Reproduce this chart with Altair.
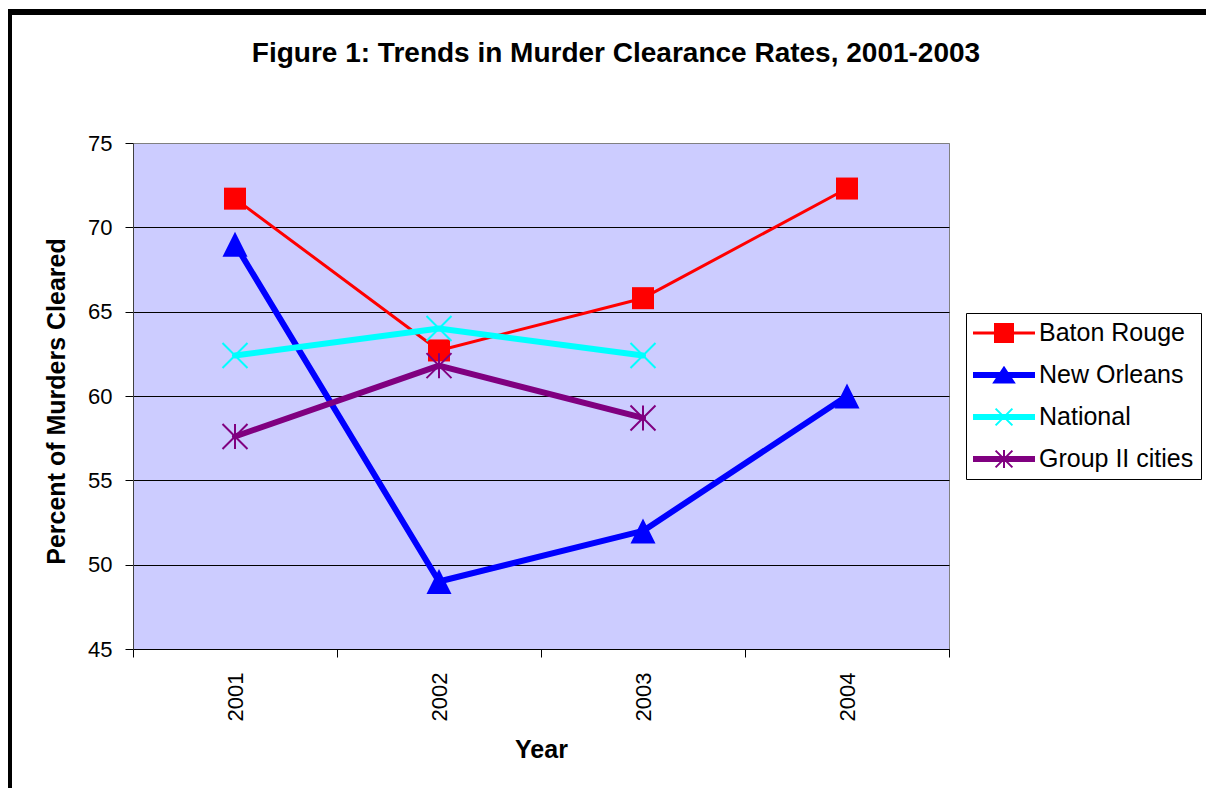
import altair as alt
import pandas as pd

# ---- data ----
years = ["2001", "2002", "2003", "2004"]
series_names = ["Baton Rouge", "New Orleans", "National", "Group II cities"]
baton_rouge = [71.7, 62.7, 65.8, 72.3]
new_orleans = [69.0, 49.0, 52.0, 60.0]
national = [62.4, 64.0, 62.4, None]
group_ii = [57.6, 61.8, 58.7, None]
series_values = [baton_rouge, new_orleans, national, group_ii]
y_ticks = [45, 50, 55, 60, 65, 70, 75]

# ---- styles ----
colors = ["#FF0000", "#0000FF", "#00FFFF", "#800080"]
FONT = "Liberation Sans"
styles = {
    "Baton Rouge": dict(width=3, shape="M-1,-1H1V1H-1Z", size=484, filled=True,
                        legend="M-1,-0.042H4V0.042H-1Z M0.75,-0.75H2.25V0.75H0.75Z"),
    "New Orleans": dict(width=6, shape="M0,-1L1,1H-1Z", size=625, filled=True,
                        legend="M-1,-0.167H4V0.167H-1Z M1.5,-0.625L2.33,0.625H0.67Z"),
    "National": dict(width=6, shape="M-1,-1L1,1M-1,1L1,-1", size=625, filled=False,
                     legend="M-1,-0.167H4V0.167H-1Z M0.8,-0.7L2.2,0.7M0.8,0.7L2.2,-0.7"),
    "Group II cities": dict(width=6, shape="M-1,-1L1,1M-1,1L1,-1M0,-1L0,1", size=625, filled=False,
                            legend="M-1,-0.167H4V0.167H-1Z M0.8,-0.7L2.2,0.7M0.8,0.7L2.2,-0.7M1.5,-0.75L1.5,0.75"),
}

rows = []
for name, vals in zip(series_names, series_values):
    for yr, v in zip(years, vals):
        if v is not None:
            rows.append({"Year": yr, "Series": name, "Value": v})
df = pd.DataFrame(rows)

legend = alt.Legend(
    title=None, orient="none", legendX=833, legendY=170,
    fillColor="white", strokeColor="black", padding=7,
    labelFont=FONT, labelFontSize=25, labelColor="black", labelLimit=400,
    symbolSize=576, labelOffset=40, rowPadding=16,
    symbolStrokeWidth=2, symbolOpacity=1,
)

x_enc = alt.X(
    "Year:O",
    scale=alt.Scale(type="band", domain=years, paddingInner=0, paddingOuter=0),
    bandPosition=0.5,
    axis=alt.Axis(
        title="Year", labelAngle=270, tickBand="extent", tickSize=8,
        tickColor="black", domainColor="black", grid=False,
        labelFont=FONT, labelFontSize=22, labelColor="black", labelPadding=15,
        titleFont=FONT, titleFontSize=25, titleFontWeight="bold", titleColor="black",
        titlePadding=17,
    ),
)
y_enc = alt.Y(
    "Value:Q",
    scale=alt.Scale(domain=[45, 75], nice=False, zero=False),
    axis=alt.Axis(
        title="Percent of Murders Cleared", values=y_ticks, tickSize=8,
        tickColor="black", domainColor="#404040",
        grid=True, gridWidth=1,
        gridColor={"condition": {"test": "datum.value === 75", "value": "#808080"}, "value": "black"},
        labelFont=FONT, labelFontSize=22, labelColor="black", labelPadding=13,
        titleFont=FONT, titleFontSize=25, titleFontWeight="bold", titleColor="black",
        titlePadding=18, titleY=258,
    ),
)
series_scale = alt.Scale(domain=series_names, range=colors)

base = alt.Chart(df)
layers = []

# outer frame (decoration)
frame_data = alt.Data(values=[{"k": 1}])
layers.append(alt.Chart(frame_data).mark_rule(color="black", strokeWidth=6).encode(
    x=alt.value(-124), y=alt.value(-134), y2=alt.value(700)))
layers.append(alt.Chart(frame_data).mark_rule(color="black", strokeWidth=6).encode(
    x=alt.value(-127), x2=alt.value(1150), y=alt.value(-131)))

for name, col in zip(series_names, colors):
    st = styles[name]
    sub = base.transform_filter(alt.datum.Series == name)
    layers.append(sub.mark_line(color=col, strokeWidth=st["width"], strokeCap="round",
                                strokeJoin="round").encode(x=x_enc, y=y_enc))
    layers.append(sub.mark_point(
        color=col, shape=st["shape"], size=st["size"], filled=st["filled"], opacity=1,
        strokeWidth=2).encode(x=x_enc, y=y_enc))

# empty layer that only carries the legend (line + marker glyphs)
legend_shapes = [styles[n]["legend"] for n in series_names]
layers.append(base.transform_filter("false").mark_point(filled=True, opacity=1).encode(
    x=x_enc, y=y_enc,
    fill=alt.Fill("Series:N", scale=series_scale, legend=legend),
    stroke=alt.Stroke("Series:N", scale=series_scale, legend=legend),
    shape=alt.Shape("Series:N", scale=alt.Scale(domain=series_names, range=legend_shapes), legend=legend),
))

chart = alt.layer(*layers).properties(
    width=816, height=506,
    title=alt.TitleParams(
        text="Figure 1: Trends in Murder Clearance Rates, 2001-2003",
        font=FONT, fontSize=28, fontWeight="bold", color="black",
        anchor="middle", dx=75, offset=-62,
    ),
    autosize=alt.AutoSizeParams(type="none"),
    padding={"left": 125, "top": 135, "right": 257, "bottom": 139},
    background="white",
).configure_view(fill="#CCCCFF", stroke="#808080", strokeWidth=1)

chart.save("out.html", embed_options={"renderer": "svg", "actions": False})
